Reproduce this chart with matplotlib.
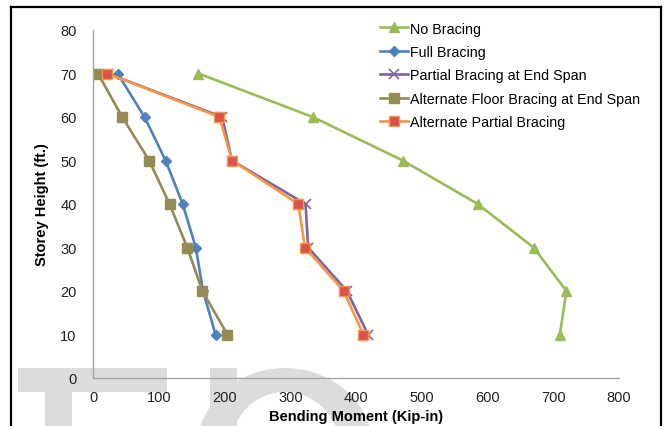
import matplotlib
matplotlib.use("Agg")
import matplotlib.pyplot as plt
from matplotlib.patches import Rectangle, Ellipse
from matplotlib.lines import Line2D

plt.rcParams['font.family'] = ['Liberation Sans', 'DejaVu Sans']

heights = [70, 60, 50, 40, 30, 20, 10]
no_bracing = [160, 334, 471, 585, 670, 720, 710]
full_bracing = [37, 78, 110, 136, 156, 167, 186]
partial_end = [22, 196, 211, 323, 327, 386, 418]
alt_floor = [7, 44, 85, 116, 143, 166, 204]
alt_partial = [21, 192, 211, 312, 322, 381, 411]

series_names = ["No Bracing", "Full Bracing", "Partial Bracing at End Span",
                "Alternate Floor Bracing at End Span", "Alternate Partial Bracing"]
x_ticks = [0, 100, 200, 300, 400, 500, 600, 700, 800]
y_ticks = [0, 10, 20, 30, 40, 50, 60, 70, 80]

W, H = 665, 427
fig = plt.figure(figsize=(W / 100, H / 100), dpi=100)

def fx(px):
    return px / W

def fy(py):
    return 1 - py / H

wm = '#dcdcdc'
# watermark "T"
fig.patches.append(Rectangle((fx(18), fy(393)), fx(167 - 18), 24 / H, transform=fig.transFigure,
                             facecolor=wm, edgecolor='none', zorder=-5))
fig.patches.append(Rectangle((fx(45), fy(440)), fx(72 - 45), 47 / H, transform=fig.transFigure,
                             facecolor=wm, edgecolor='none', zorder=-5))
# watermark "P"
fig.patches.append(Ellipse((fx(285), fy(450)), 2 * 88 / W, 2 * 81 / H, transform=fig.transFigure,
                           facecolor=wm, edgecolor='none', zorder=-5))
fig.patches.append(Ellipse((fx(285), fy(450)), 2 * 55 / W, 2 * 57 / H, transform=fig.transFigure,
                           facecolor='white', edgecolor='none', zorder=-4))
fig.patches.append(Rectangle((fx(210), fy(440)), fx(237 - 210), 71 / H, transform=fig.transFigure,
                             facecolor=wm, edgecolor='none', zorder=-3))

# figure frame
for xs, ys in [([11, 11], [8, 440]), ([11, 661], [8, 8]), ([661, 661], [8, 440])]:
    fig.lines.append(Line2D([fx(v) for v in xs], [fy(v) for v in ys], transform=fig.transFigure,
                            color='black', linewidth=1.6, zorder=10))

ax = fig.add_axes([fx(93.3), fy(379), fx(619 - 93.3), (379 - 31) / H])
ax.set_facecolor('none')

lw = 1.9
ax.plot(no_bracing, heights, color='#9BBB59', lw=lw, marker='^', ms=7, label=series_names[0])
ax.plot(full_bracing, heights, color='#4F81BD', lw=lw, marker='D', ms=5, label=series_names[1])
ax.plot(partial_end, heights, color='#8064A2', lw=lw, marker='x', ms=7, mew=1.2, label=series_names[2])
ax.plot(alt_floor, heights, color='#948A54', lw=lw, marker='s', ms=7, label=series_names[3])
ax.plot(alt_partial, heights, color='#F79646', lw=lw, marker='s', ms=6.5, mfc='#D9534A',
        mec='#F79646', mew=1.0, label=series_names[4])

ax.set_xlim(0, 800)
ax.set_ylim(0, 80)
ax.set_xticks(x_ticks)
ax.set_yticks(y_ticks)
ax.tick_params(length=0, labelsize=10.5, colors='#222222')
ax.tick_params(axis='y', pad=12)
ax.tick_params(axis='x', pad=9)
for s in ['top', 'right']:
    ax.spines[s].set_visible(False)
for s in ['left', 'bottom']:
    ax.spines[s].set_color('#a6a6a6')
    ax.spines[s].set_linewidth(1.0)

ax.set_xlabel("Bending Moment (Kip-in)", fontsize=10.5, fontweight='bold', labelpad=3)
ax.set_ylabel("Storey Height (ft.)", fontsize=10.5, fontweight='bold', labelpad=8)

leg = fig.legend(loc='upper left', bbox_to_anchor=(fx(380), fy(22.5)), frameon=False,
                 fontsize=10.3, handlelength=1.95, handletextpad=0.15, borderpad=0,
                 borderaxespad=0, labelspacing=0.66)

fig.savefig("out.png", dpi=100)
